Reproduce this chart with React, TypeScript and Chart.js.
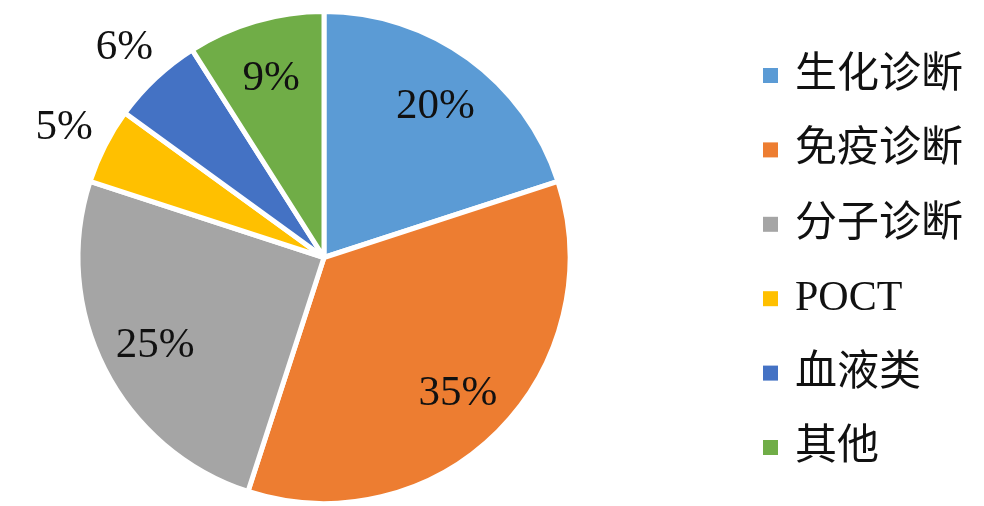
import React, { useEffect, useRef } from "react";
import { Chart, registerables } from "chart.js";

Chart.register(...registerables);

const categories = ["生化诊断", "免疫诊断", "分子诊断", "POCT", "血液类", "其他"];
const shares = [20, 35, 25, 5, 6, 9];
const percentLabels = ["20%", "35%", "25%", "5%", "6%", "9%"];
const labelOutside = [false, false, false, true, true, false];
const colors = ["#5B9BD5", "#ED7D31", "#A5A5A5", "#FFC000", "#4472C4", "#70AD47"];

const FONT = '"Liberation Serif", "Noto Sans CJK SC", serif';

const labelPlugin = {
  id: "pctLabels",
  afterDatasetsDraw(chart: any) {
    const ctx = chart.ctx;
    const meta = chart.getDatasetMeta(0);
    ctx.save();
    ctx.font = `43px ${FONT}`;
    ctx.fillStyle = "#111111";
    ctx.textAlign = "center";
    ctx.textBaseline = "alphabetic";
    meta.data.forEach((arc: any, i: number) => {
      const p = arc.getProps(["startAngle", "endAngle", "outerRadius", "x", "y"], true);
      const mid = (p.startAngle + p.endAngle) / 2;
      const r = labelOutside[i] ? p.outerRadius * 1.185 : p.outerRadius * 0.77;
      const cx = p.x + Math.cos(mid) * r;
      const cy = p.y + Math.sin(mid) * r;
      ctx.fillText(percentLabels[i], cx, cy + 14);
    });
    ctx.restore();
  },
};

const legendPlugin = {
  id: "customLegend",
  afterDraw(chart: any) {
    const ctx = chart.ctx;
    ctx.save();
    ctx.textBaseline = "middle";
    ctx.textAlign = "left";
    const x0 = 763;
    const y0 = 75;
    const step = 74.4;
    categories.forEach((c, i) => {
      const y = y0 + i * step;
      ctx.fillStyle = colors[i];
      ctx.fillRect(x0, y - 7, 15, 15);
      ctx.fillStyle = "#111111";
      ctx.font = `42px ${FONT}`;
      ctx.fillText(c, 795, y + 1);
    });
    ctx.restore();
  },
};

export default function App() {
  const ref = useRef<HTMLCanvasElement | null>(null);
  useEffect(() => {
    if (!ref.current) return;
    const chart = new Chart(ref.current, {
      type: "pie",
      data: {
        labels: categories,
        datasets: [
          {
            data: shares,
            backgroundColor: colors,
            borderColor: "#ffffff",
            borderWidth: 5,
          },
        ],
      },
      options: {
        animation: false,
        responsive: false,
        maintainAspectRatio: false,
        layout: { padding: { left: 74, top: 9, right: 410, bottom: -3 } },
        plugins: {
          legend: { display: false },
          tooltip: { enabled: false },
        },
      },
      plugins: [labelPlugin, legendPlugin],
    });
    return () => chart.destroy();
  }, []);
  return (
    <div style={{ position: "fixed", left: 0, top: 0, width: 984, height: 506, background: "#fff" }}>
      <canvas ref={ref} width={984} height={506} style={{ width: 984, height: 506 }} />
    </div>
  );
}
